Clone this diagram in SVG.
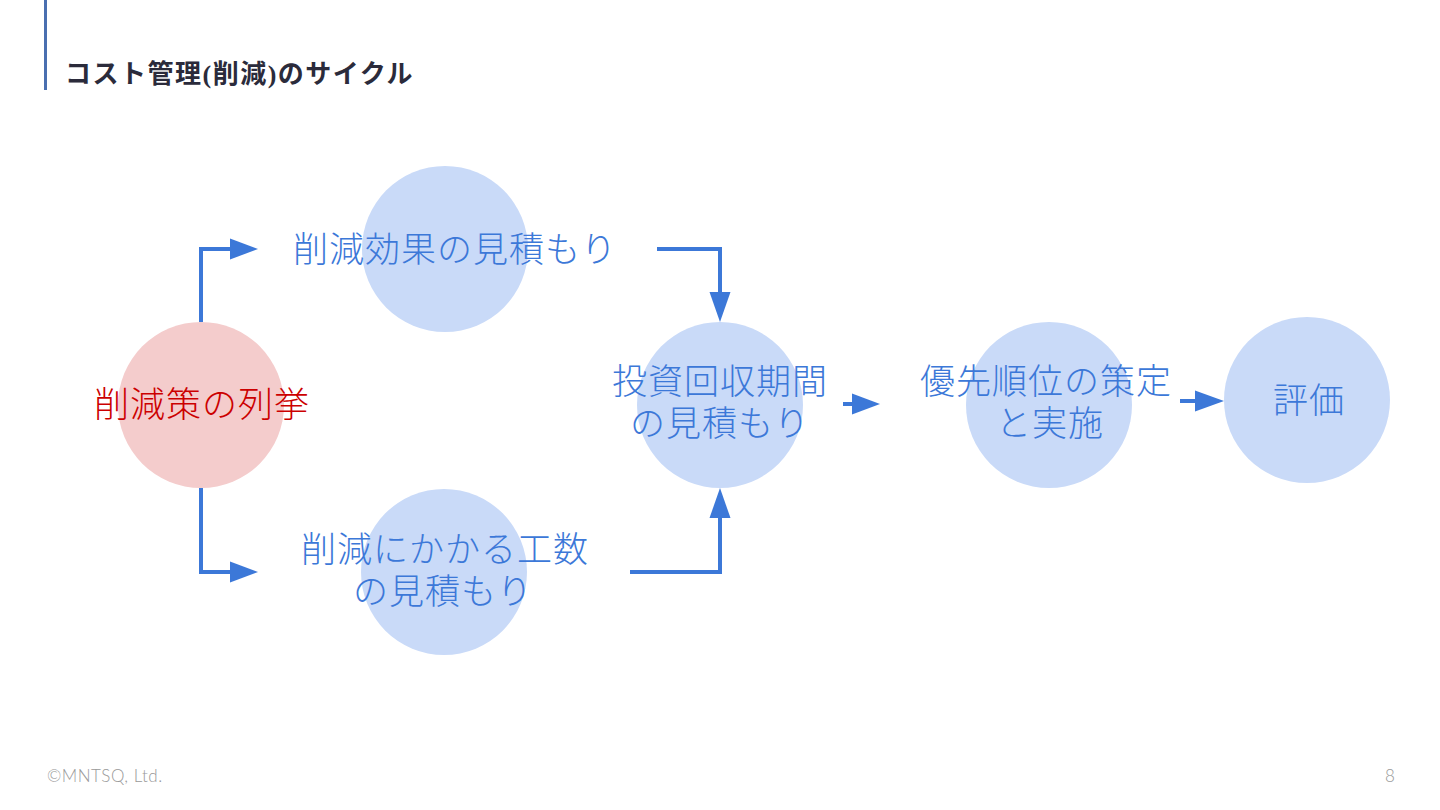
<svg xmlns="http://www.w3.org/2000/svg" width="1440" height="810" viewBox="0 0 1440 810">
<defs>
<style>
.c{fill:#c9daf8}
.r{fill:#f4cccc}
.t{font-family:"Noto Sans CJK JP","Noto Sans",sans-serif;font-weight:300;font-size:35px;letter-spacing:1px;fill:#3c78d8;text-anchor:middle}
.red{fill:#cc0000}
.ln{fill:none;stroke:#3c78d8;stroke-width:4;stroke-linejoin:miter}
.ah{fill:#3c78d8}
</style>
</defs>
<rect width="1440" height="810" fill="#ffffff"/>
<rect x="44" y="0" width="3" height="90" fill="#4a6fb0"/>
<text x="65" y="83" font-family="Liberation Serif,'Noto Sans CJK JP',serif" font-weight="bold" font-size="26" letter-spacing="1.5" fill="#2b2b3b">コスト管理(削減)のサイクル</text>

<g id="n1"><circle class="r" cx="201" cy="405" r="83"/><text class="t red" x="202" y="417">削減策の列挙</text></g>
<g id="n2"><circle class="c" cx="445" cy="249" r="83"/><text class="t" x="455" y="262">削減効果の見積もり</text></g>
<g id="n3"><circle class="c" cx="444" cy="572" r="83"/><text class="t" x="445" y="562">削減にかかる工数</text><text class="t" x="443" y="604">の見積もり</text></g>
<g id="n4"><circle class="c" cx="720" cy="405" r="83"/><text class="t" x="720" y="394">投資回収期間</text><text class="t" x="720" y="436">の見積もり</text></g>
<g id="n5"><circle class="c" cx="1049" cy="405" r="83"/><text class="t" x="1046" y="394">優先順位の策定</text><text class="t" x="1050" y="436">と実施</text></g>
<g id="n6"><circle class="c" cx="1307" cy="400" r="83"/><text class="t" x="1309" y="413">評価</text></g>

<g id="connectors">
<polyline class="ln" points="201,322 201,249 232,249"/>
<polygon class="ah" points="230,238.5 258,249 230,259.5"/>
<polyline class="ln" points="201,488 201,572 232,572"/>
<polygon class="ah" points="230,561.5 258,572 230,582.5"/>
<polyline class="ln" points="657,249 720,249 720,294"/>
<polygon class="ah" points="709.5,292 720,322 730.5,292"/>
<polyline class="ln" points="630,572 720,572 720,516"/>
<polygon class="ah" points="709.5,518 720,488 730.5,518"/>
<line class="ln" x1="843" y1="404" x2="854" y2="404"/>
<polygon class="ah" points="852,393.5 880,404 852,414.5"/>
<line class="ln" x1="1180" y1="401" x2="1197" y2="401"/>
<polygon class="ah" points="1195,390.5 1224,401 1195,411.5"/>
</g>

<text x="47" y="782" font-family="Lato,'Liberation Sans',sans-serif" font-weight="300" font-size="17" letter-spacing="0.5" fill="#999999">©MNTSQ, Ltd.</text>
<text x="1390" y="782" font-family="Lato,'Liberation Sans',sans-serif" font-weight="300" font-size="17" fill="#999999" text-anchor="middle">8</text>
</svg>
